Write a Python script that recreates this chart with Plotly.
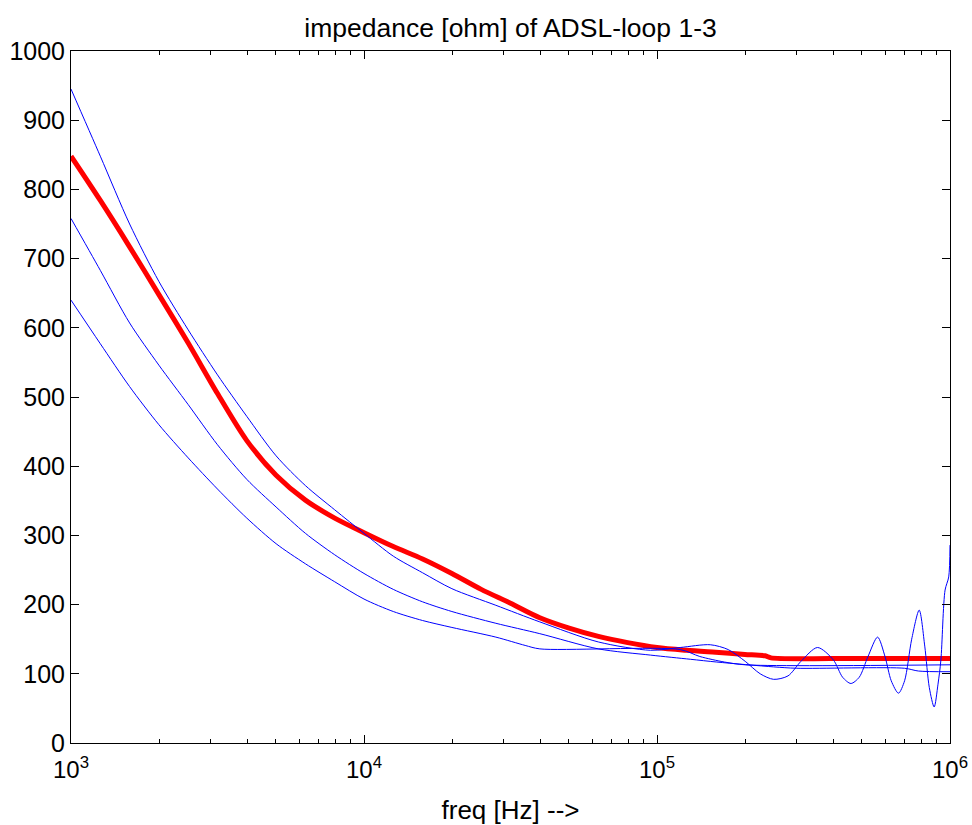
import plotly.graph_objects as go

# ---------------- data ----------------
freq_red = [1000, 1259, 1585, 1995, 2512, 3162, 3981, 5012, 6310, 7943, 10000, 12589,
            15849, 19953, 25119, 31623, 39811, 50119, 63096, 79433, 100000, 125893,
            158489, 199526, 234000, 245000, 400000, 1000000]
imp_red = [848, 784, 717, 648, 578, 505, 437, 387, 351, 325, 304, 284,
           266, 245, 222, 202, 181, 166, 154, 145, 138, 134,
           131, 128, 126, 123, 122, 122]

freq_a = [1000, 1259, 1585, 1995, 2512, 3162, 3981, 5012, 6310, 7943, 10000, 12589,
          15849, 19953, 28184, 39811, 63096, 95000, 120000, 152000, 175000, 200000,
          225000, 250000, 280000, 310000, 353000, 400000, 430000, 459000, 490000, 525000,
          566000, 600000, 630000, 667000, 700000, 740000, 785000, 820000, 850000, 883000,
          910000, 931000, 962000, 990000, 1000000]
imp_a = [945, 848, 750, 667, 597, 532, 472, 415, 372, 337, 303, 270,
         246, 223, 199, 175, 146, 134, 138, 142, 135, 118,
         100, 92, 97, 118, 138, 120, 95, 86, 95, 125,
         153, 125, 90, 72, 90, 150, 192, 140, 80, 52,
         85, 120, 221, 240, 286]

freq_b = [1000, 1259, 1585, 1995, 2512, 3162, 3981, 5012, 6310, 7943, 10000, 12589,
          15849, 19953, 28184, 39811, 63096, 95100, 130000, 160000, 250000, 300000,
          700000, 780000, 1000000]
imp_b = [758, 683, 607, 546, 489, 431, 381, 341, 303, 272, 245, 222,
         204, 190, 173, 158, 136, 127, 121, 117, 110, 108,
         108, 104, 103]

freq_c = [1000, 1259, 1585, 1995, 2512, 3162, 3981, 5012, 6310, 7943, 10000, 12589,
          15849, 19953, 28184, 35481, 39811, 120000, 140000, 170000, 200000, 1000000]
imp_c = [640, 577, 515, 460, 412, 367, 325, 288, 259, 233, 208, 190,
         177, 167, 153, 141, 136, 135, 125, 117, 113, 113]

x_tick_vals = [1e3, 1e4, 1e5, 1e6]
x_tick_text = ["10<sup>3</sup>", "10<sup>4</sup>", "10<sup>5</sup>", "10<sup>6</sup>"]
y_tick_vals = [0, 100, 200, 300, 400, 500, 600, 700, 800, 900, 1000]
minor_vals = [m * 10 ** e for e in (3, 4, 5) for m in range(2, 10)]

title_text = "impedance [ohm] of ADSL-loop 1-3"
x_title = "freq [Hz] -->"

# ---------------- figure ----------------
fig = go.Figure()
fig.add_trace(go.Scatter(x=freq_red, y=imp_red, mode="lines",
                         line=dict(color="#ff0000", width=5, shape="spline", smoothing=0.8),
                         showlegend=False))
for fx, fy in ((freq_a, imp_a), (freq_b, imp_b), (freq_c, imp_c)):
    fig.add_trace(go.Scatter(x=fx, y=fy, mode="lines",
                             line=dict(color="#0000ff", width=1, shape="spline", smoothing=0.8),
                             showlegend=False))

font_family = "Liberation Sans, Arial, Helvetica, sans-serif"

fig.update_layout(
    width=972, height=825,
    margin=dict(l=71, r=22, t=51, b=82, autoexpand=False),
    paper_bgcolor="white", plot_bgcolor="white",
    font=dict(family=font_family, color="black", size=25),
    title=dict(text=title_text, x=0.5, xref="paper", xanchor="center",
               y=1 - 28 / 825, yref="container", yanchor="middle", automargin=False,
               font=dict(size=26.5, family=font_family, color="black")),
    xaxis=dict(type="log", range=[3, 6], tickvals=x_tick_vals, ticktext=x_tick_text,
               ticks="inside", ticklen=8, tickcolor="black", tickwidth=1,
               showline=True, linecolor="black", linewidth=1, mirror="allticks",
               showgrid=False, zeroline=False, automargin=False,
               tickfont=dict(size=24), ticklabelstandoff=5, ticklabeloverflow="allow",
               minor=dict(tickvals=minor_vals, ticks="inside", ticklen=4,
                          tickcolor="black", showgrid=False),
               title=dict(text=x_title, font=dict(size=26), standoff=31)),
    yaxis=dict(range=[0, 1000], tickvals=y_tick_vals,
               ticks="inside", ticklen=8, tickcolor="black", tickwidth=1,
               showline=True, linecolor="black", linewidth=1, mirror="allticks",
               showgrid=False, zeroline=False, automargin=False, tickfont=dict(size=25),
               ticklabeloverflow="allow"),
)

# remove the browser's default 8px body margin so the figure fills the window exactly
fig.write_html("out.html", config={"displayModeBar": False},
               post_script="document.body.style.margin='0px';")
